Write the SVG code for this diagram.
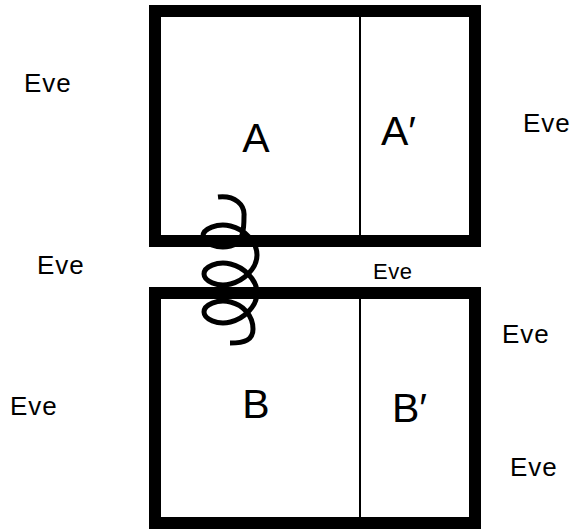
<svg xmlns="http://www.w3.org/2000/svg" width="572" height="529" viewBox="0 0 572 529">
  <style>
    .frame { fill: none; stroke: #000; stroke-width: 12; }
    .divider { stroke: #000; stroke-width: 2; }
    .big { font-family: "Liberation Sans", Arial, sans-serif; font-size: 41px; fill: #000; }
    .lbl { font-family: "Liberation Sans", Arial, sans-serif; font-size: 26px; letter-spacing: 1px; fill: #000; }
    .lbl-s { font-family: "Liberation Sans", Arial, sans-serif; font-size: 22px; letter-spacing: 0.5px; fill: #000; }
    .coil { fill: none; stroke: #000; stroke-width: 5; stroke-linejoin: round; }
  </style>
  <rect width="572" height="529" fill="#fff"/>

  <!-- upper box A | A' -->
  <g id="box-a">
    <rect class="frame" x="155" y="11" width="320" height="230"/>
    <line class="divider" x1="360" y1="17" x2="360" y2="235"/>
    <text class="big" x="256" y="152" text-anchor="middle">A</text>
    <text class="big" x="381" y="145">A′</text>
  </g>

  <!-- lower box B | B' -->
  <g id="box-b">
    <rect class="frame" x="155" y="293" width="320" height="230"/>
    <line class="divider" x1="360" y1="299" x2="360" y2="517"/>
    <text class="big" x="256" y="418" text-anchor="middle">B</text>
    <text class="big" x="392" y="422">B′</text>
  </g>

  <!-- free labels -->
  <g id="labels">
    <text class="lbl" x="24" y="92">Eve</text>
    <text class="lbl" x="523" y="132">Eve</text>
    <text class="lbl" x="37" y="274">Eve</text>
    <text class="lbl-s" x="373" y="279">Eve</text>
    <text class="lbl" x="502" y="343">Eve</text>
    <text class="lbl" x="10" y="415">Eve</text>
    <text class="lbl" x="510" y="476">Eve</text>
  </g>

  <!-- spring linking the two boxes -->
  <g id="connectors">
    <path class="coil" d="M218,197 C235,195 245,205 244,216 C244,228 243.85,242.8 230.5,246
      C217.15,249.17 203,243.04 203,236
      C203,228.96 217.15,222.83 230.5,226
      C243.85,229.17 257,241.62 257,255
      C257,268.38 243.85,280.83 230.5,284
      C217.15,287.17 204,281.04 204,274
      C204,266.96 217.15,260.83 230.5,264
      C243.85,267.17 257,279.62 257,293
      C257,306.38 243.85,318.83 230.5,322
      C217.15,325.17 204,319.04 204,312
      C204,304.96 217.15,298.83 230.5,302
      C243.85,305.17 253,316 253,329
      C253,340 245,343 230,343"/>
  </g>
</svg>
